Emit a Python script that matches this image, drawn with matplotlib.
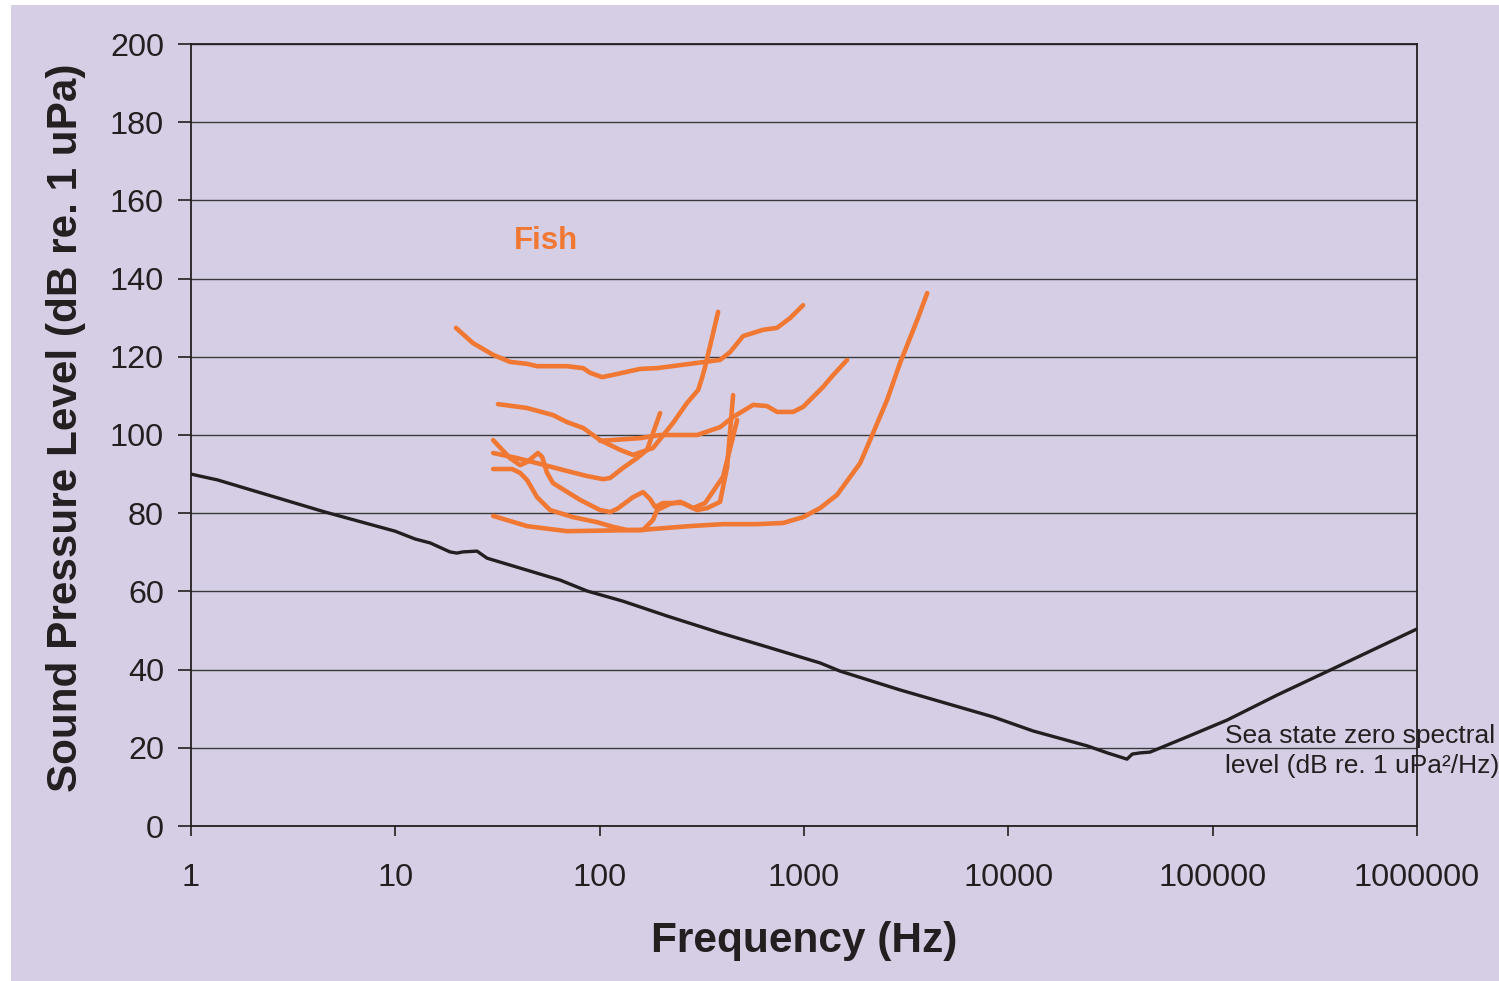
import matplotlib
matplotlib.use("Agg")
import matplotlib.pyplot as plt
from matplotlib.patches import Rectangle
from matplotlib.ticker import FixedLocator, NullLocator

plt.rcParams['font.family'] = ['Liberation Sans', 'DejaVu Sans']

# ---------------- data ----------------
# Ambient noise (sea state zero) curve
noise_f = [1, 1.35, 1.84, 4.53, 9.97, 12.5, 14.8, 18.5, 20.0, 21.4, 25.1, 28.1,
           64, 86.8, 130, 214, 388, 660, 1199, 1503, 2952, 8430, 13220, 24300,
           30500, 38100, 40400, 44200, 49400, 75000, 117800, 207000, 406000, 1000000]
noise_db = [90.0, 88.5, 86.4, 80.3, 75.4, 73.4, 72.4, 70.1, 69.8, 70.1, 70.3, 68.5,
            62.9, 60.1, 57.5, 53.7, 49.4, 45.8, 41.7, 39.6, 34.8, 27.9, 24.3, 20.5,
            18.7, 17.1, 18.4, 18.7, 18.9, 22.8, 27.1, 33.5, 40.7, 50.4]

# Fish audiograms
fishA_f = [19.8, 24.0, 30.1, 36.4, 44.1, 49.4, 69.2, 83.0, 89.8, 102.8, 121.7, 157.7,
           190.9, 276.9, 388.3, 434.8, 503.6, 630, 738, 855, 990]
fishA_db = [127.4, 123.5, 120.5, 118.7, 118.2, 117.6, 117.6, 117.1, 115.9, 114.8, 115.6,
            116.9, 117.1, 118.2, 119.2, 121.2, 125.3, 126.9, 127.4, 129.9, 133.2]

fishB_f = [31.8, 44.1, 59.1, 69.2, 83.0, 100.4, 125.9, 145.7, 182.5, 228.7, 267.7,
           303.4, 317, 328, 380]
fishB_db = [107.9, 106.9, 105.1, 103.3, 101.8, 98.7, 96.2, 94.9, 96.7, 103.1, 108.2,
            111.5, 114.6, 117.4, 131.5]

fishC_f = [100.4, 157.7, 197.6, 299.8, 388.3, 449.8, 563.6, 659.8, 738, 884.7, 990,
           1240, 1387, 1625]
fishC_db = [98.5, 99.2, 100.0, 100.0, 102.0, 104.6, 107.7, 107.4, 105.9, 105.9, 107.2,
            112.3, 115.3, 119.2]

fishD_f = [30.1, 36.4, 40.8, 44.1, 49.9, 52.3, 55.3, 59.1, 80.2, 100.4, 112.5, 121.7,
           145.7, 163, 176.5, 186.7, 204.3, 255.9, 299.8, 335.6, 388.3, 420.5, 449.8]
fishD_db = [98.7, 94.1, 92.3, 93.1, 95.4, 94.4, 90.3, 87.7, 83.4, 80.8, 80.3, 81.1,
            84.1, 85.4, 83.6, 81.6, 82.6, 82.6, 80.8, 81.3, 82.9, 91.8, 110.2]

fishE_f = [30.1, 37.3, 40.8, 44.1, 49.4, 57.2, 74.1, 97.1, 116.3, 136.2, 163, 182.5,
           190.9, 221.2, 247.6, 286.5, 328, 401.6, 470.6]
fishE_db = [91.3, 91.3, 90.3, 88.5, 84.1, 80.8, 79.0, 77.7, 76.5, 75.7, 75.7, 78.3,
            80.8, 82.4, 82.9, 81.3, 82.6, 89.3, 103.8]

fishF_f = [30.1, 39.4, 51.1, 69.2, 86.8, 103.9, 112.5, 130.2, 152.4, 170.6, 197.6]
fishF_db = [95.4, 94.1, 92.6, 90.8, 89.5, 88.7, 89.0, 91.6, 94.1, 96.2, 105.6]

fishG_f = [30.1, 44.1, 69.2, 157.7, 276.9, 401.6, 589, 790, 990, 1199, 1452, 1682,
           1883, 2178, 2552, 2951, 3580, 4009]
fishG_db = [79.3, 76.7, 75.4, 75.7, 76.7, 77.2, 77.2, 77.5, 79.0, 81.3, 84.7, 89.3,
            92.8, 100.5, 109.0, 118.4, 129.4, 136.3]

fish_curves = [(fishA_f, fishA_db), (fishB_f, fishB_db), (fishC_f, fishC_db),
               (fishD_f, fishD_db), (fishE_f, fishE_db), (fishF_f, fishF_db),
               (fishG_f, fishG_db)]

x_ticks = [1, 10, 100, 1000, 10000, 100000, 1000000]
x_tick_labels = ['1', '10', '100', '1000', '10000', '100000', '1000000']
y_ticks = [0, 20, 40, 60, 80, 100, 120, 140, 160, 180, 200]

# ---------------- style ----------------
BG = '#D5CEE5'
ORANGE = '#F07833'
DARK = '#231F20'

fig = plt.figure(figsize=(14.99, 9.81), dpi=100, facecolor='white')
fig.patches.append(Rectangle((11 / 1499, 0), 1 - 11 / 1499, 1 - 5 / 981,
                             transform=fig.transFigure, facecolor=BG,
                             edgecolor='none', zorder=-10))

ax = fig.add_axes([191 / 1499, 1 - 826 / 981, (1417 - 191) / 1499, (826 - 44) / 981])
ax.set_facecolor(BG)
ax.set_xscale('log')
ax.set_xlim(1, 1e6)
ax.set_ylim(0, 200)

ax.xaxis.set_major_locator(FixedLocator(x_ticks))
ax.xaxis.set_minor_locator(NullLocator())
ax.set_xticklabels(x_tick_labels)
ax.yaxis.set_major_locator(FixedLocator(y_ticks))
ax.set_yticklabels([str(v) for v in y_ticks])

ax.tick_params(axis='x', direction='out', length=7, width=1.2, color=DARK,
               labelsize=23.3, labelcolor=DARK, pad=20)
ax.tick_params(axis='y', direction='out', length=9.5, width=1.2, color=DARK,
               labelsize=23.3, labelcolor=DARK, pad=10)

for s in ax.spines.values():
    s.set_color(DARK)
    s.set_linewidth(1.3)

ax.yaxis.grid(True, color='#3a3a3a', linewidth=1.0)
ax.set_axisbelow(True)

ax.plot(noise_f, noise_db, color=DARK, linewidth=2.4, solid_joinstyle='round', zorder=3)
for f, db in fish_curves:
    ax.plot(f, db, color=ORANGE, linewidth=3.3, solid_capstyle='round',
            solid_joinstyle='round', zorder=4)

ax.text(54.7, 149.6, 'Fish', color=ORANGE, fontsize=22.5, fontweight='bold',
        ha='center', va='center')

ax.text(115100, 19.2, 'Sea state zero spectral\nlevel (dB re. 1 uPa\u00b2/Hz)',
        color=DARK, fontsize=19, ha='left', va='center', linespacing=1.3,
        clip_on=False, zorder=5)

ax.set_xlabel('Frequency (Hz)', fontsize=30.5, fontweight='bold', color=DARK, labelpad=20)
ax.set_ylabel('Sound Pressure Level (dB re. 1 uPa)', fontsize=30.4, fontweight='bold',
              color=DARK, labelpad=17)
ax.yaxis.label.set_y(0.509)

fig.savefig('out.png', dpi=100, facecolor=fig.get_facecolor())
